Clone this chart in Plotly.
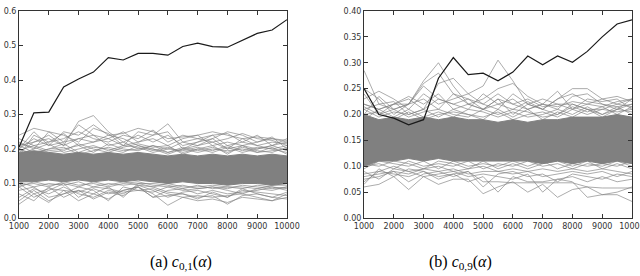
import plotly.graph_objects as go

alpha = [1000 + 500 * i for i in range(19)]

# Panel (a): c_{0,1}(alpha)
a_black = [0.205, 0.305, 0.307, 0.38, 0.403, 0.423, 0.465, 0.458, 0.477, 0.477,
           0.472, 0.497, 0.507, 0.497, 0.495, 0.515, 0.535, 0.545, 0.575]
a_core_hi = [0.19, 0.195, 0.19, 0.185, 0.19, 0.185, 0.19, 0.185, 0.19, 0.185,
             0.18, 0.185, 0.18, 0.185, 0.18, 0.185, 0.18, 0.185, 0.18]
a_core_lo = [0.105, 0.105, 0.11, 0.105, 0.11, 0.105, 0.11, 0.105, 0.11, 0.105,
             0.10, 0.105, 0.10, 0.10, 0.095, 0.10, 0.10, 0.095, 0.10]
a_gray = [
    [0.24, 0.26, 0.25, 0.22, 0.23, 0.22, 0.24, 0.23, 0.21, 0.20, 0.19, 0.20, 0.21, 0.22, 0.20, 0.21, 0.20, 0.21, 0.22],
    [0.19, 0.22, 0.23, 0.21, 0.28, 0.297, 0.25, 0.22, 0.20, 0.21, 0.20, 0.22, 0.23, 0.24, 0.245, 0.22, 0.21, 0.20, 0.21],
    [0.20, 0.23, 0.21, 0.25, 0.24, 0.27, 0.24, 0.245, 0.26, 0.25, 0.23, 0.235, 0.24, 0.25, 0.24, 0.23, 0.235, 0.23, 0.225],
    [0.22, 0.20, 0.25, 0.24, 0.22, 0.26, 0.245, 0.21, 0.25, 0.24, 0.273, 0.22, 0.21, 0.23, 0.25, 0.24, 0.22, 0.23, 0.22],
    [0.18, 0.24, 0.22, 0.23, 0.25, 0.23, 0.22, 0.24, 0.23, 0.255, 0.22, 0.24, 0.23, 0.22, 0.23, 0.245, 0.23, 0.225, 0.21],
    [0.21, 0.22, 0.24, 0.21, 0.23, 0.24, 0.21, 0.22, 0.24, 0.22, 0.24, 0.21, 0.22, 0.24, 0.21, 0.22, 0.24, 0.21, 0.23],
    [0.23, 0.21, 0.22, 0.245, 0.21, 0.22, 0.23, 0.25, 0.22, 0.23, 0.21, 0.23, 0.24, 0.21, 0.22, 0.21, 0.22, 0.235, 0.20],
    [0.20, 0.25, 0.21, 0.22, 0.27, 0.24, 0.23, 0.21, 0.22, 0.24, 0.25, 0.20, 0.22, 0.23, 0.20, 0.23, 0.21, 0.22, 0.215],
    [0.21, 0.19, 0.20, 0.215, 0.19, 0.205, 0.20, 0.19, 0.21, 0.195, 0.205, 0.19, 0.20, 0.19, 0.205, 0.19, 0.20, 0.21, 0.195],
    [0.195, 0.21, 0.195, 0.20, 0.21, 0.19, 0.215, 0.20, 0.195, 0.21, 0.19, 0.205, 0.195, 0.205, 0.19, 0.205, 0.195, 0.19, 0.205],
    [0.185, 0.20, 0.215, 0.19, 0.20, 0.21, 0.195, 0.21, 0.205, 0.19, 0.20, 0.195, 0.205, 0.195, 0.21, 0.195, 0.205, 0.20, 0.19],
    [0.20, 0.185, 0.20, 0.205, 0.185, 0.195, 0.205, 0.195, 0.20, 0.20, 0.185, 0.20, 0.19, 0.20, 0.195, 0.20, 0.19, 0.195, 0.20],
    [0.215, 0.205, 0.19, 0.195, 0.215, 0.20, 0.19, 0.205, 0.215, 0.205, 0.21, 0.185, 0.20, 0.21, 0.185, 0.21, 0.19, 0.205, 0.185],
    [0.04, 0.07, 0.045, 0.08, 0.05, 0.07, 0.055, 0.08, 0.09, 0.07, 0.037, 0.06, 0.05, 0.055, 0.045, 0.06, 0.055, 0.05, 0.06],
    [0.07, 0.05, 0.09, 0.06, 0.08, 0.055, 0.075, 0.065, 0.09, 0.06, 0.065, 0.07, 0.06, 0.065, 0.04, 0.065, 0.07, 0.06, 0.055],
    [0.08, 0.09, 0.06, 0.07, 0.09, 0.08, 0.05, 0.09, 0.08, 0.085, 0.07, 0.06, 0.065, 0.06, 0.065, 0.07, 0.06, 0.05, 0.07],
    [0.06, 0.085, 0.07, 0.09, 0.07, 0.06, 0.08, 0.07, 0.095, 0.08, 0.06, 0.075, 0.08, 0.07, 0.06, 0.08, 0.075, 0.07, 0.065],
    [0.09, 0.06, 0.08, 0.10, 0.06, 0.085, 0.07, 0.08, 0.09, 0.06, 0.08, 0.085, 0.07, 0.08, 0.07, 0.075, 0.08, 0.09, 0.08],
    [0.05, 0.08, 0.05, 0.07, 0.08, 0.07, 0.09, 0.06, 0.10, 0.09, 0.075, 0.07, 0.055, 0.075, 0.06, 0.085, 0.07, 0.06, 0.075],
    [0.10, 0.07, 0.085, 0.08, 0.075, 0.09, 0.085, 0.075, 0.08, 0.075, 0.09, 0.08, 0.085, 0.09, 0.08, 0.07, 0.085, 0.08, 0.09],
    [0.095, 0.10, 0.09, 0.105, 0.095, 0.10, 0.09, 0.10, 0.105, 0.095, 0.09, 0.095, 0.085, 0.09, 0.085, 0.095, 0.09, 0.085, 0.09],
    [0.105, 0.09, 0.10, 0.095, 0.105, 0.09, 0.10, 0.095, 0.10, 0.10, 0.095, 0.085, 0.095, 0.085, 0.09, 0.085, 0.095, 0.09, 0.085],
    [0.09, 0.105, 0.095, 0.10, 0.09, 0.105, 0.095, 0.105, 0.095, 0.09, 0.10, 0.09, 0.09, 0.095, 0.09, 0.09, 0.085, 0.095, 0.095],
]

# Panel (b): c_{0,9}(alpha)
b_black = [0.25, 0.20, 0.193, 0.18, 0.19, 0.27, 0.31, 0.277, 0.28, 0.265,
           0.282, 0.313, 0.296, 0.313, 0.301, 0.322, 0.35, 0.375, 0.383]
b_core_hi = [0.20, 0.19, 0.195, 0.19, 0.195, 0.19, 0.195, 0.19, 0.19, 0.185,
             0.19, 0.185, 0.19, 0.19, 0.195, 0.195, 0.195, 0.20, 0.195]
b_core_lo = [0.10, 0.11, 0.11, 0.115, 0.11, 0.115, 0.11, 0.11, 0.11, 0.11,
             0.11, 0.11, 0.105, 0.11, 0.105, 0.11, 0.105, 0.11, 0.105]
b_gray = [
    [0.285, 0.22, 0.21, 0.22, 0.265, 0.30, 0.255, 0.22, 0.21, 0.23, 0.20, 0.22, 0.21, 0.20, 0.22, 0.21, 0.20, 0.21, 0.22],
    [0.23, 0.245, 0.23, 0.21, 0.24, 0.22, 0.23, 0.24, 0.255, 0.305, 0.265, 0.22, 0.21, 0.23, 0.25, 0.25, 0.23, 0.22, 0.23],
    [0.22, 0.21, 0.22, 0.235, 0.22, 0.24, 0.21, 0.22, 0.23, 0.25, 0.26, 0.235, 0.22, 0.245, 0.21, 0.22, 0.23, 0.235, 0.225],
    [0.25, 0.23, 0.20, 0.22, 0.23, 0.21, 0.24, 0.22, 0.21, 0.22, 0.23, 0.21, 0.22, 0.21, 0.235, 0.24, 0.22, 0.21, 0.23],
    [0.21, 0.22, 0.225, 0.20, 0.21, 0.23, 0.22, 0.23, 0.22, 0.24, 0.22, 0.23, 0.215, 0.22, 0.21, 0.23, 0.225, 0.23, 0.21],
    [0.24, 0.20, 0.22, 0.23, 0.21, 0.26, 0.27, 0.24, 0.22, 0.21, 0.24, 0.22, 0.23, 0.22, 0.22, 0.21, 0.21, 0.22, 0.215],
    [0.20, 0.235, 0.21, 0.22, 0.255, 0.23, 0.22, 0.21, 0.24, 0.22, 0.21, 0.225, 0.21, 0.23, 0.24, 0.225, 0.22, 0.215, 0.22],
    [0.22, 0.21, 0.22, 0.22, 0.26, 0.28, 0.24, 0.23, 0.21, 0.23, 0.22, 0.21, 0.22, 0.215, 0.225, 0.22, 0.215, 0.225, 0.23],
    [0.21, 0.195, 0.205, 0.20, 0.21, 0.195, 0.21, 0.20, 0.195, 0.205, 0.19, 0.20, 0.205, 0.195, 0.21, 0.20, 0.21, 0.205, 0.21],
    [0.19, 0.21, 0.195, 0.21, 0.195, 0.205, 0.195, 0.21, 0.205, 0.195, 0.205, 0.195, 0.20, 0.21, 0.20, 0.215, 0.20, 0.215, 0.20],
    [0.215, 0.20, 0.21, 0.195, 0.205, 0.21, 0.20, 0.195, 0.21, 0.20, 0.21, 0.205, 0.195, 0.20, 0.215, 0.205, 0.215, 0.20, 0.215],
    [0.20, 0.205, 0.19, 0.205, 0.19, 0.20, 0.205, 0.20, 0.19, 0.21, 0.195, 0.21, 0.19, 0.205, 0.195, 0.21, 0.195, 0.21, 0.205],
    [0.06, 0.065, 0.08, 0.055, 0.08, 0.065, 0.075, 0.075, 0.047, 0.06, 0.07, 0.05, 0.065, 0.04, 0.055, 0.06, 0.045, 0.05, 0.06],
    [0.07, 0.09, 0.085, 0.08, 0.09, 0.08, 0.085, 0.07, 0.08, 0.05, 0.08, 0.07, 0.07, 0.075, 0.07, 0.04, 0.045, 0.045, 0.032],
    [0.08, 0.085, 0.09, 0.07, 0.085, 0.09, 0.08, 0.09, 0.07, 0.07, 0.068, 0.068, 0.068, 0.068, 0.068, 0.06, 0.058, 0.058, 0.058],
    [0.09, 0.075, 0.095, 0.09, 0.08, 0.085, 0.09, 0.08, 0.085, 0.08, 0.075, 0.085, 0.05, 0.075, 0.08, 0.07, 0.08, 0.07, 0.075],
    [0.065, 0.095, 0.08, 0.095, 0.09, 0.075, 0.085, 0.09, 0.06, 0.085, 0.09, 0.08, 0.085, 0.07, 0.085, 0.08, 0.075, 0.085, 0.08],
    [0.075, 0.08, 0.09, 0.085, 0.095, 0.09, 0.095, 0.085, 0.09, 0.09, 0.085, 0.09, 0.08, 0.085, 0.09, 0.085, 0.09, 0.08, 0.09],
    [0.085, 0.09, 0.10, 0.09, 0.095, 0.10, 0.09, 0.095, 0.10, 0.09, 0.095, 0.09, 0.095, 0.09, 0.095, 0.09, 0.095, 0.09, 0.085],
    [0.10, 0.105, 0.095, 0.11, 0.10, 0.105, 0.10, 0.11, 0.095, 0.105, 0.10, 0.11, 0.10, 0.105, 0.095, 0.105, 0.10, 0.11, 0.10],
    [0.095, 0.11, 0.105, 0.10, 0.11, 0.095, 0.11, 0.10, 0.105, 0.10, 0.11, 0.10, 0.11, 0.095, 0.105, 0.10, 0.105, 0.10, 0.11],
    [0.105, 0.10, 0.11, 0.105, 0.095, 0.11, 0.105, 0.095, 0.11, 0.095, 0.105, 0.095, 0.105, 0.11, 0.10, 0.11, 0.095, 0.105, 0.095],
]

x_ticks = list(range(1000, 10001, 1000))
a_yticks = [0.0, 0.1, 0.2, 0.3, 0.4, 0.5, 0.6]
b_yticks = [0.0, 0.05, 0.10, 0.15, 0.20, 0.25, 0.30, 0.35, 0.40]
captions = ["(a) <i>c</i><sub>0,1</sub>(<i>α</i>)", "(b) <i>c</i><sub>0,9</sub>(<i>α</i>)"]

fig = go.Figure()

panels = [
    ("x", "y", a_black, a_core_hi, a_core_lo, a_gray),
    ("x2", "y2", b_black, b_core_hi, b_core_lo, b_gray),
]
for xa, ya, black, hi, lo, grays in panels:
    fig.add_trace(go.Scatter(
        x=alpha + alpha[::-1], y=hi + lo[::-1], fill="toself",
        fillcolor="#808080", line=dict(color="#808080", width=1),
        mode="lines", xaxis=xa, yaxis=ya, hoverinfo="skip", showlegend=False))
    for g in grays:
        fig.add_trace(go.Scatter(
            x=alpha, y=g, mode="lines", line=dict(color="rgba(128,128,128,0.65)", width=1),
            xaxis=xa, yaxis=ya, showlegend=False))
    fig.add_trace(go.Scatter(
        x=alpha, y=black, mode="lines", line=dict(color="#1a1a1a", width=1.2),
        xaxis=xa, yaxis=ya, showlegend=False))

tickfont = dict(family="DejaVu Sans", size=8, color="#333333")
common_x = dict(range=[1000, 10000], tickvals=x_ticks, ticktext=[str(v) for v in x_ticks],
                ticks="inside", ticklen=4, ticklabeloverflow="allow",
                mirror="allticks", showline=True, linecolor="#333333", linewidth=1,
                showgrid=False, zeroline=False, tickfont=tickfont, automargin=False,
                tickcolor="#333333")
common_y = dict(ticks="inside", ticklen=4, mirror="allticks", showline=True,
                linecolor="#333333", linewidth=1, showgrid=False, zeroline=False,
                tickfont=tickfont, automargin=False, tickcolor="#333333",
                ticklabeloverflow="allow")

fig.update_layout(
    width=640, height=276, margin=dict(l=0, r=0, t=0, b=0),
    paper_bgcolor="white", plot_bgcolor="white",
    xaxis=dict(domain=[19 / 640, 287 / 640], anchor="y", **common_x),
    xaxis2=dict(domain=[364 / 640, 632 / 640], anchor="y2", **common_x),
    yaxis=dict(domain=[1 - 218 / 276, 1 - 11 / 276], anchor="x", range=[0, 0.6],
               tickvals=a_yticks, ticktext=[f"{v:.1f}" for v in a_yticks], **common_y),
    yaxis2=dict(domain=[1 - 218 / 276, 1 - 11 / 276], anchor="x2", range=[0, 0.4],
                tickvals=b_yticks, ticktext=[f"{v:.2f}" for v in b_yticks], **common_y),
    annotations=[
        dict(text=captions[0], x=148 / 640, y=0, yanchor="bottom", yshift=2,
             xref="paper", yref="paper", showarrow=False,
             font=dict(family="Liberation Serif", size=16, color="black")),
        dict(text=captions[1], x=494 / 640, y=0, yanchor="bottom", yshift=2,
             xref="paper", yref="paper", showarrow=False,
             font=dict(family="Liberation Serif", size=16, color="black")),
    ],
)

fig.write_html("out.html")
